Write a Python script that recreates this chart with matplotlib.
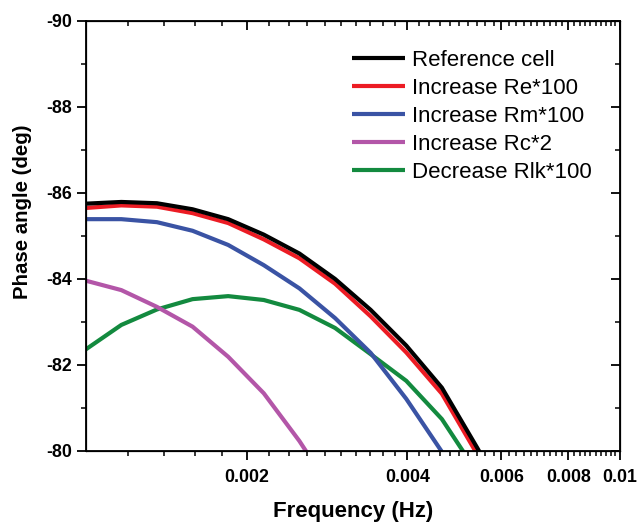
import numpy as np
import matplotlib
matplotlib.use("Agg")
import matplotlib.pyplot as plt
from matplotlib.ticker import FixedLocator, NullFormatter

plt.rcParams['font.family'] = ['Liberation Sans', 'DejaVu Sans']

# frequencies: 15 points per decade starting at 1 mHz
freq = [0.001 * 10 ** (k / 15) for k in range(16)]

labels = ["Reference cell", "Increase Re*100", "Increase Rm*100",
          "Increase Rc*2", "Decrease Rlk*100"]
colors = ["#000000", "#EC1C24", "#3A53A4", "#B356A8", "#138A3F"]

ref_cell = [-85.74, -85.78, -85.75, -85.61, -85.38, -85.02, -84.58, -83.99,
            -83.27, -82.44, -81.46, -80.05, -78.6]
inc_re = [-85.64, -85.70, -85.67, -85.52, -85.29, -84.91, -84.47, -83.88,
          -83.12, -82.28, -81.32, -79.90, -78.4]
inc_rm = [-85.38, -85.38, -85.31, -85.11, -84.78, -84.31, -83.77, -83.08,
          -82.27, -81.20, -79.97]
inc_rc = [-83.95, -83.73, -83.34, -82.88, -82.18, -81.33, -80.22, -78.95]
dec_rlk = [-82.35, -82.92, -83.28, -83.52, -83.59, -83.50, -83.27, -82.85,
           -82.24, -81.62, -80.73, -79.47]

series = [ref_cell, inc_re, inc_rm, inc_rc, dec_rlk]

xticks = [0.002, 0.004, 0.006, 0.008, 0.01]
xticklabels = ["0.002", "0.004", "0.006", "0.008", "0.01"]
yticks = [-90, -88, -86, -84, -82, -80]
yminor = [-89, -87, -85, -83, -81]

W, H = 638, 522
fig = plt.figure(figsize=(W / 100, H / 100), dpi=100)
ax = fig.add_axes([85.7 / W, 1 - 450.5 / H, 534.3 / W, 430 / H])

# draw in reverse so black is on top
handles = {}
for i in [4, 3, 2, 1, 0]:
    vals = series[i]
    h, = ax.plot(freq[:len(vals)], vals, color=colors[i], lw=3.0,
                 solid_capstyle='butt', solid_joinstyle='round',
                 label=labels[i])
    handles[i] = h

ax.set_xscale('log')
ax.set_xlim(0.001, 0.01)
ax.set_ylim(-80, -90)

minor_x = [round(0.001 + 0.0002 * i, 5) for i in range(1, 45)]
minor_x = [m for m in minor_x if all(abs(m - t) > 1e-7 for t in xticks)]

ax.xaxis.set_major_locator(FixedLocator(xticks))
ax.set_xticklabels(xticklabels)
ax.xaxis.set_minor_locator(FixedLocator(minor_x))
ax.xaxis.set_minor_formatter(NullFormatter())
ax.yaxis.set_major_locator(FixedLocator(yticks))
ax.yaxis.set_minor_locator(FixedLocator(yminor))
ax.set_yticklabels([str(t) for t in yticks])

ax.tick_params(which='major', direction='out', length=6.5, width=1.3,
               labelsize=12.8)
ax.tick_params(which='minor', direction='out', length=3.5, width=1.1)
ax.tick_params(axis='x', which='major', pad=7)
ax.tick_params(axis='y', which='major', pad=3.5)
for lab in ax.get_xticklabels() + ax.get_yticklabels():
    lab.set_fontweight('bold')
for s in ax.spines.values():
    s.set_linewidth(1.3)

# mirrored inward ticks on top and right
axt = ax.twiny()
axt.set_xscale('log')
axt.set_xlim(ax.get_xlim())
axt.xaxis.set_major_locator(FixedLocator(xticks))
axt.xaxis.set_minor_locator(FixedLocator(minor_x))
axt.xaxis.set_major_formatter(NullFormatter())
axt.xaxis.set_minor_formatter(NullFormatter())
axt.tick_params(which='major', direction='in', length=6.5, width=1.3)
axt.tick_params(which='minor', direction='in', length=3.5, width=1.1)

axr = ax.twinx()
axr.set_ylim(ax.get_ylim())
axr.yaxis.set_major_locator(FixedLocator(yticks))
axr.yaxis.set_minor_locator(FixedLocator(yminor))
axr.yaxis.set_major_formatter(NullFormatter())
axr.yaxis.set_minor_formatter(NullFormatter())
axr.tick_params(which='major', direction='in', length=6.5, width=1.3)
axr.tick_params(which='minor', direction='in', length=3.5, width=1.1)

fig.text(353 / W, 1 - 511 / H, "Frequency (Hz)", fontsize=16,
         fontweight='bold', ha='center', va='center')
fig.text(22.5 / W, 1 - 211.5 / H, "Phase angle (deg)", fontsize=14.7,
         fontweight='bold', ha='center', va='center', rotation=90)

leg = fig.legend([handles[i] for i in range(5)], labels, loc='upper left',
                 bbox_to_anchor=(351.7 / W, 1 - 50 / H),
                 bbox_transform=fig.transFigure, frameon=False, fontsize=16,
                 handlelength=2.4, handletextpad=0.3, labelspacing=0.31,
                 borderaxespad=0, borderpad=0)

fig.savefig("out.png", dpi=100)
